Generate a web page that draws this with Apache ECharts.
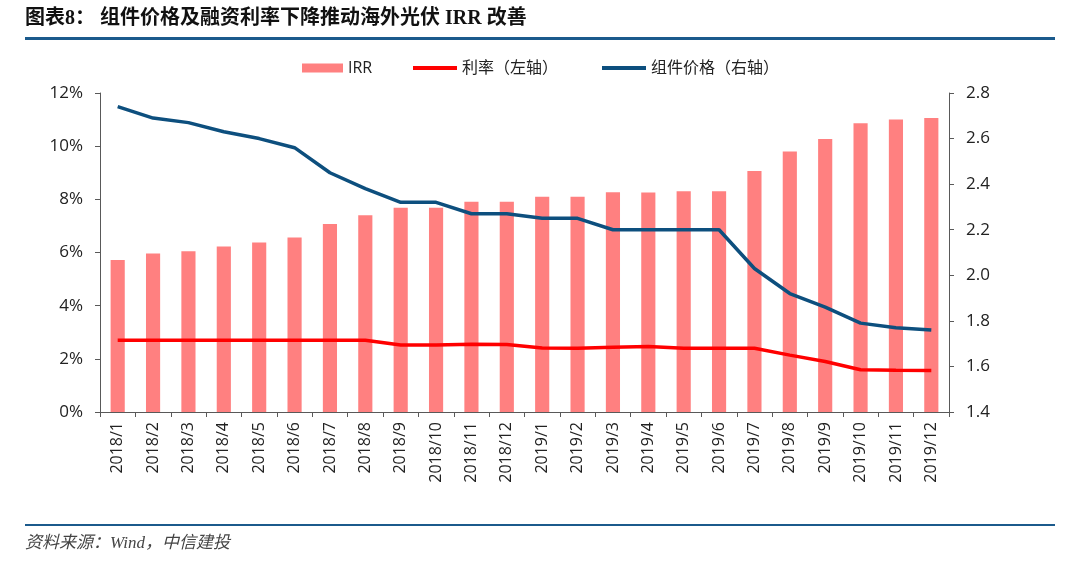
<!DOCTYPE html>
<html>
<head>
<meta charset="utf-8">
<script src="https://cdn.jsdelivr.net/npm/echarts@6/dist/echarts.min.js"></script>
<style>
html,body{margin:0;padding:0;background:#fff;}
#c{width:1080px;height:563px;}
</style>
</head>
<body>
<div id="c"></div>
<script>
const categories = ['2018/1','2018/2','2018/3','2018/4','2018/5','2018/6','2018/7','2018/8','2018/9','2018/10','2018/11','2018/12',
  '2019/1','2019/2','2019/3','2019/4','2019/5','2019/6','2019/7','2019/8','2019/9','2019/10','2019/11','2019/12'];
const irr = [5.72,5.96,6.05,6.23,6.38,6.56,7.07,7.40,7.68,7.68,7.91,7.91,8.10,8.10,8.27,8.26,8.30,8.30,9.07,9.80,10.27,10.86,11.00,11.06];
const rate = [2.70,2.70,2.70,2.70,2.70,2.70,2.70,2.70,2.52,2.52,2.55,2.54,2.41,2.40,2.44,2.46,2.40,2.40,2.40,2.14,1.90,1.59,1.57,1.56];
const price = [2.74,2.69,2.67,2.63,2.60,2.56,2.45,2.38,2.32,2.32,2.27,2.27,2.25,2.25,2.20,2.20,2.20,2.20,2.03,1.92,1.86,1.79,1.77,1.76];
const leftTicks = [0,2,4,6,8,10,12];
const rightTicks = [1.4,1.6,1.8,2.0,2.2,2.4,2.6,2.8];
const titleText = '图表8： 组件价格及融资利率下降推动海外光伏 IRR 改善';
const sourceText = '资料来源：Wind，中信建投';
const names = ['IRR','利率（左轴）','组件价格（右轴）'];

const font = '"Open Sans","Noto Sans CJK SC",sans-serif';
const chart = echarts.init(document.getElementById('c'));
const axisLine = {show:true, lineStyle:{color:'#595959', width:1}};
const legendText = {fontSize:16, color:'#222', fontFamily:font};
chart.setOption({
  animation:false,
  backgroundColor:'#fff',
  textStyle:{fontFamily:font},
  graphic:[
    {type:'text', left:25, top:9, style:{text:titleText, font:'bold 20px "Liberation Serif","Noto Sans CJK SC",serif', fill:'#111'}},
    {type:'rect', shape:{x:25,y:37,width:1030,height:3}, style:{fill:'#1b5a8c'}},
    {type:'rect', shape:{x:25,y:524,width:1030,height:2}, style:{fill:'#1b5a8c'}},
    {type:'text', left:25, top:535, style:{text:sourceText, font:'italic 17px "Liberation Serif","Noto Sans CJK SC",serif', fill:'#444'}}
  ],
  legend:[
    {data:[names[0]], left:297, top:55, itemWidth:41, itemHeight:9, itemGap:0, icon:'rect', textStyle:legendText},
    {data:[names[1]], left:408, top:55, itemWidth:44, itemHeight:4, itemGap:0, icon:'rect', textStyle:legendText},
    {data:[names[2]], left:597, top:55, itemWidth:44, itemHeight:4, itemGap:0, icon:'rect', textStyle:legendText}
  ],
  grid:{left:100, right:131, top:93, bottom:151},
  xAxis:{
    type:'category', data:categories, boundaryGap:true,
    axisLine:axisLine,
    axisTick:{show:true, alignWithLabel:false, length:5, lineStyle:{color:'#595959'}},
    axisLabel:{rotate:90, interval:0, fontSize:16, color:'#222', margin:10, fontFamily:font}
  },
  yAxis:[
    {type:'value', min:0, max:12, interval:2, position:'left',
     axisLine:axisLine, axisTick:{show:true, length:5, lineStyle:{color:'#595959'}},
     splitLine:{show:false},
     axisLabel:{formatter:v=>v+'%', fontSize:17, color:'#222', margin:17, fontFamily:font}},
    {type:'value', min:1.4, max:2.8, interval:0.2, position:'right',
     axisLine:axisLine, axisTick:{show:true, length:5, lineStyle:{color:'#595959'}},
     splitLine:{show:false},
     axisLabel:{formatter:v=>v.toFixed(1), fontSize:17, color:'#222', margin:17, fontFamily:font}}
  ],
  series:[
    {name:names[0], type:'bar', data:irr, yAxisIndex:0, barWidth:'40%', itemStyle:{color:'#ff8080'}},
    {name:names[1], type:'line', data:rate, yAxisIndex:0, symbol:'none', lineStyle:{color:'#ff0000', width:3.5}, itemStyle:{color:'#ff0000'}},
    {name:names[2], type:'line', data:price, yAxisIndex:1, symbol:'none', lineStyle:{color:'#0d4f7e', width:3.5}, itemStyle:{color:'#0d4f7e'}}
  ]
});
</script>
</body>
</html>
